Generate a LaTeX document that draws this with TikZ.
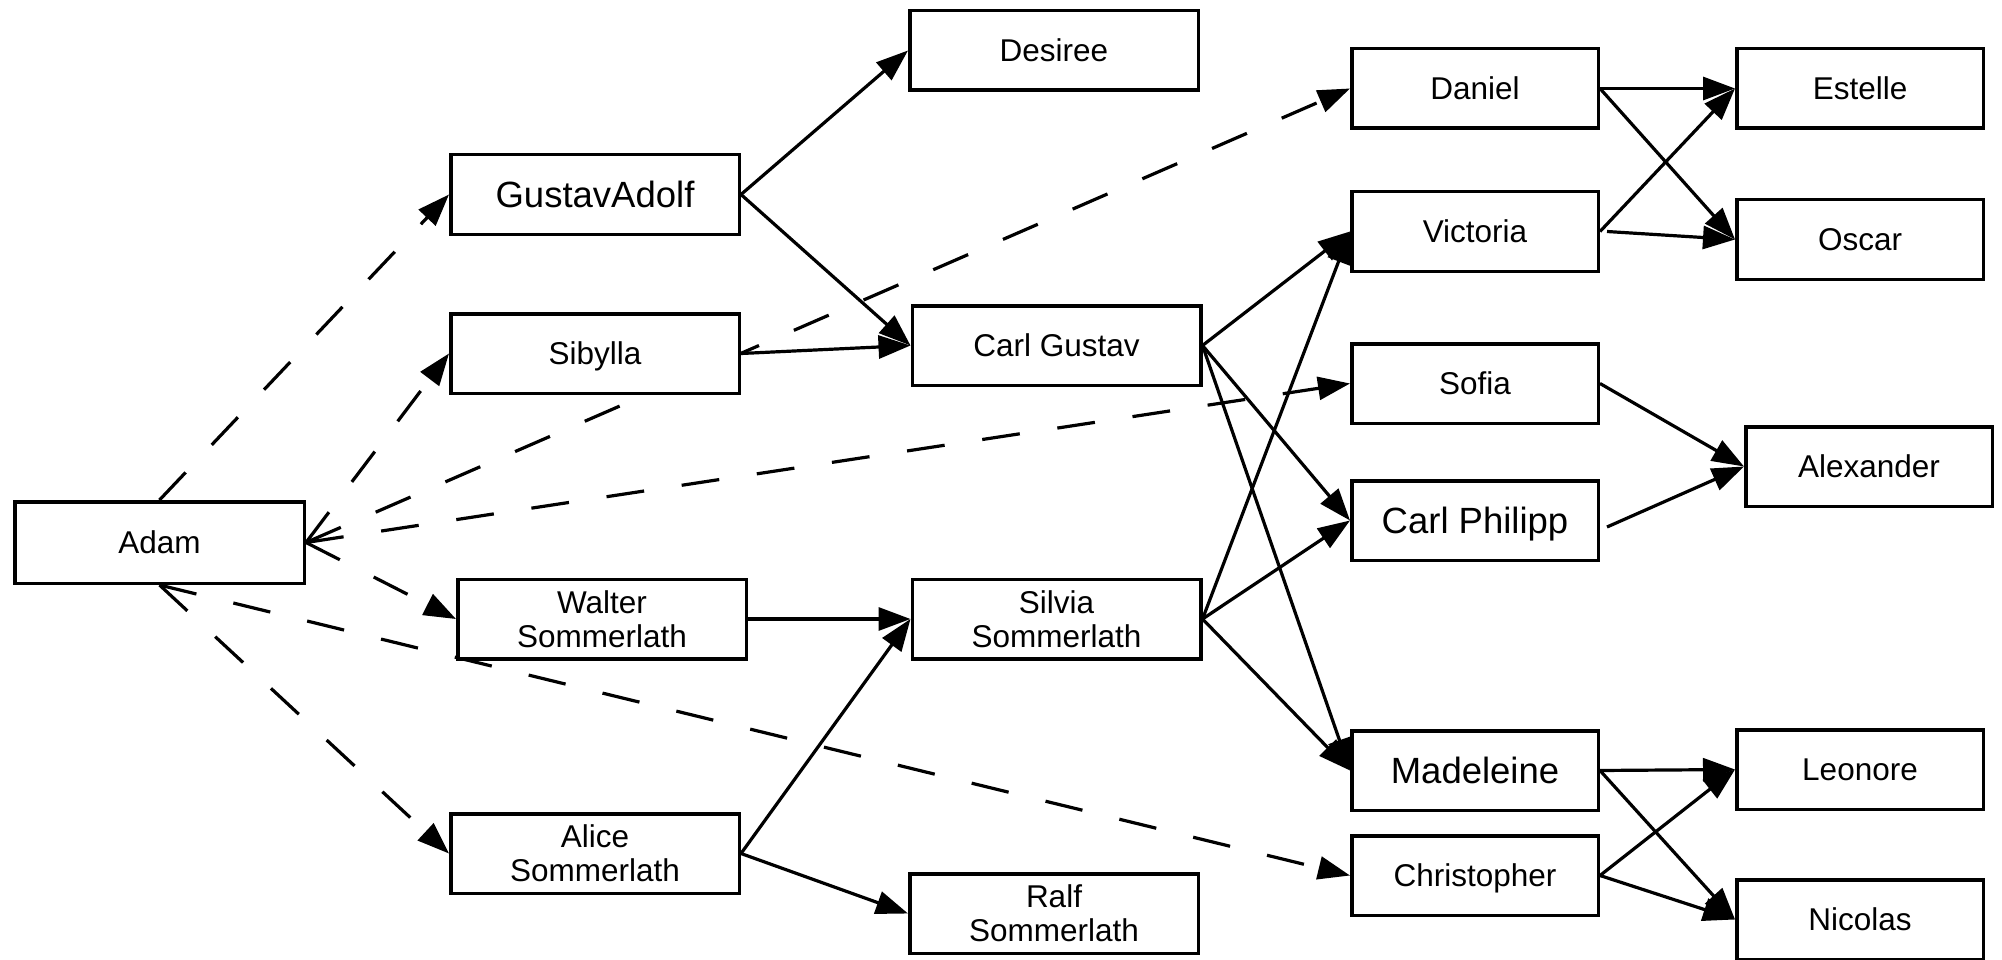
\documentclass[tikz,border=0pt]{standalone}
\usepackage{fontspec}
\setmainfont{Liberation Sans}
\usetikzlibrary{arrows.meta}
\pgfdeclarelayer{bg}
\pgfsetlayers{bg,main}
\tikzset{
  person/.style={draw, line width=3.5pt, fill=white, minimum width=288.5pt,
    minimum height=79.5pt, inner sep=0pt, align=center,
    font=\fontsize{31.5pt}{34pt}\selectfont},
  personS/.style={person, minimum width=246.5pt},
  one/.style={text height=22.5pt, text depth=0pt},
  big/.style={font=\fontsize{36.5pt}{40pt}\selectfont, text height=26pt, text depth=0pt},
  rel/.style={line width=3.2pt, -{Triangle[length=32pt,width=23pt]}},
  marr/.style={rel, dash pattern=on 38pt off 38pt},
}
\begin{document}
\begin{tikzpicture}[x=1pt, y=-1pt]
\useasboundingbox (0,0) rectangle (2002,960);
% generation 1
\node[person, one, minimum width=289.5pt, minimum height=81.5pt] (Adam) at (159.5,542.5) {Adam};
% generation 2
\node[person, big] (GA) at (595,194.5) {GustavAdolf};
\node[person, one] (Sib) at (595,353.5) {Sibylla};
\node[person] (Wal) at (602,619) {Walter\\Sommerlath};
\node[person] (Ali) at (595,853.5) {Alice\\Sommerlath};
% generation 3
\node[person, one] (Des) at (1054,50.5) {Desiree};
\node[person, one] (CG) at (1056.5,345.5) {Carl Gustav};
\node[person] (Sil) at (1056.5,619) {Silvia\\Sommerlath};
\node[person] (Ralf) at (1054,913.5) {Ralf\\Sommerlath};
% generation 4
\node[personS, one] (Dan) at (1475,88.5) {Daniel};
\node[personS, one] (Vic) at (1475,231.5) {Victoria};
\node[personS, one] (Sof) at (1475,383.5) {Sofia};
\node[personS, big] (CP) at (1475,520.5) {Carl Philipp};
\node[personS, big] (Mad) at (1475,770.5) {Madeleine};
\node[personS, one] (Chr) at (1475,875.5) {Christopher};
% generation 5
\node[personS, one] (Est) at (1860,88.5) {Estelle};
\node[personS, one] (Osc) at (1860,239.5) {Oscar};
\node[personS, one] (Alx) at (1869,466.5) {Alexander};
\node[personS, one] (Leo) at (1860,769.5) {Leonore};
\node[personS, one] (Nic) at (1860,919.5) {Nicolas};

\begin{pgfonlayer}{bg}
% dashed
\draw[marr] (Adam.north) -- (GA.west);
\draw[marr] (Adam.east) -- (Sib.west);
\draw[marr] (Adam.east) -- (Wal.west);
\draw[marr] (Adam.south) -- (Ali.west);
\draw[marr] (Adam.east) -- (Dan.west);
\draw[marr] (Adam.east) -- (Sof.west);
\draw[marr] (Adam.south) -- (Chr.west);
% solid
\draw[rel] (GA.east) -- (Des.west);
\draw[rel] (GA.east) -- (CG.west);
\draw[rel] (Sib.east) -- (CG.west);
\draw[rel] (Wal.east) -- (Sil.west);
\draw[rel] (Ali.east) -- (Sil.west);
\draw[rel] (Ali.east) -- (Ralf.west);
\draw[rel] (CG.east) -- (Vic.west);
\draw[rel] (CG.east) -- (CP.west);
\draw[rel] (CG.east) -- (Mad.west);
\draw[rel] (Sil.east) -- (Vic.west);
\draw[rel] (Sil.east) -- (CP.west);
\draw[rel] (Sil.east) -- (Mad.west);
\draw[rel] (Dan.east) -- (Est.west);
\draw[rel] (Dan.east) -- (Osc.west);
\draw[rel] (Vic.east) -- (Est.west);
\draw[rel] ([xshift=7pt]Vic.east) -- (Osc.west);
\draw[rel] (Sof.east) -- (Alx.west);
\draw[rel] ([xshift=7pt,yshift=-6.5pt]CP.east) -- (Alx.west);
\draw[rel] (Mad.east) -- (Leo.west);
\draw[rel] (Mad.east) -- (Nic.west);
\draw[rel] (Chr.east) -- (Leo.west);
\draw[rel] (Chr.east) -- (Nic.west);
\end{pgfonlayer}
\end{tikzpicture}
\end{document}
